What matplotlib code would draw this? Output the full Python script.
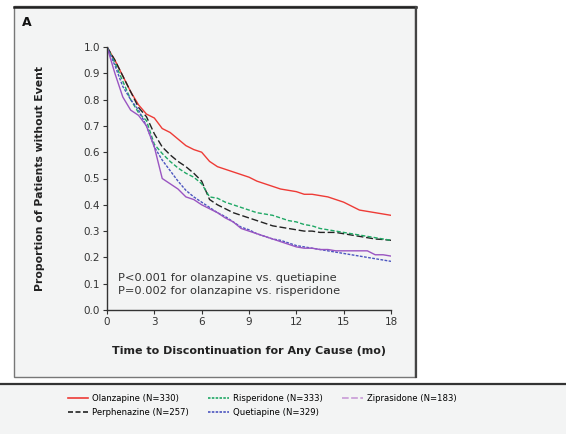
import matplotlib
matplotlib.use("Agg")
import matplotlib.pyplot as plt
from matplotlib.patches import Rectangle
from matplotlib.lines import Line2D

# ---------------- data (every 0.5 months) ----------------
months = [0, 0.5, 1, 1.5, 2, 2.5, 3, 3.5, 4, 4.5, 5, 5.5, 6, 6.5, 7, 7.5, 8, 8.5, 9,
          9.5, 10, 10.5, 11, 11.5, 12, 12.5, 13, 13.5, 14, 14.5, 15, 15.5, 16, 16.5,
          17, 17.5, 18]

olanzapine = [1.00, 0.95, 0.89, 0.83, 0.78, 0.745, 0.73, 0.69, 0.675, 0.65, 0.625,
              0.61, 0.60, 0.565, 0.545, 0.535, 0.525, 0.515, 0.505, 0.49, 0.48, 0.47,
              0.46, 0.455, 0.45, 0.44, 0.44, 0.435, 0.43, 0.42, 0.41, 0.395, 0.38,
              0.375, 0.37, 0.365, 0.36]
perphenazine = [1.00, 0.95, 0.89, 0.83, 0.77, 0.735, 0.67, 0.62, 0.59, 0.565, 0.545,
                0.52, 0.49, 0.42, 0.40, 0.385, 0.37, 0.36, 0.35, 0.34, 0.33, 0.32,
                0.315, 0.31, 0.305, 0.30, 0.30, 0.295, 0.295, 0.295, 0.29, 0.285,
                0.28, 0.275, 0.27, 0.268, 0.265]
risperidone = [1.00, 0.94, 0.87, 0.80, 0.75, 0.72, 0.63, 0.595, 0.565, 0.54, 0.52,
               0.505, 0.48, 0.43, 0.425, 0.41, 0.40, 0.39, 0.38, 0.37, 0.365, 0.36,
               0.35, 0.34, 0.335, 0.325, 0.32, 0.31, 0.305, 0.30, 0.295, 0.29, 0.285,
               0.28, 0.275, 0.27, 0.265]
quetiapine = [1.00, 0.93, 0.85, 0.80, 0.76, 0.70, 0.62, 0.57, 0.53, 0.49, 0.455,
              0.43, 0.41, 0.39, 0.37, 0.355, 0.335, 0.315, 0.305, 0.29, 0.28, 0.27,
              0.265, 0.255, 0.245, 0.24, 0.235, 0.23, 0.225, 0.22, 0.215, 0.21, 0.205,
              0.20, 0.195, 0.19, 0.185]
ziprasidone = [1.00, 0.90, 0.81, 0.76, 0.74, 0.70, 0.62, 0.50, 0.48, 0.46, 0.43,
               0.42, 0.40, 0.385, 0.37, 0.35, 0.335, 0.31, 0.30, 0.29, 0.28, 0.27,
               0.26, 0.25, 0.24, 0.235, 0.235, 0.23, 0.23, 0.225, 0.225, 0.225, 0.225,
               0.225, 0.21, 0.21, 0.205]

labels = ["Olanzapine (N=330)", "Perphenazine (N=257)", "Risperidone (N=333)",
          "Quetiapine (N=329)", "Ziprasidone (N=183)"]
x_ticks = [0, 3, 6, 9, 12, 15, 18]
y_ticks = [0.0, 0.1, 0.2, 0.3, 0.4, 0.5, 0.6, 0.7, 0.8, 0.9, 1.0]

# ---------------- figure ----------------
W, H = 566, 434
fig = plt.figure(figsize=(W / 100, H / 100), dpi=100)
fig.patch.set_facecolor("white")

# panel box
panel = Rectangle((14 / W, 1 - 377 / H), 401 / W, 371 / H, transform=fig.transFigure,
                  facecolor="#f3f4f4", edgecolor="#777777", lw=1.0, zorder=-5)
fig.patches.append(panel)
fig.add_artist(Line2D([14 / W, 415.5 / W], [1 - 6.5 / H] * 2, color="#222222", lw=1.8, zorder=-4))
fig.add_artist(Line2D([415.5 / W] * 2, [1 - 6.5 / H, 1 - 377 / H], color="#444444", lw=1.6, zorder=-4))

# legend strip
strip = Rectangle((0, 0), 1, 1 - 385 / H, transform=fig.transFigure,
                  facecolor="#f3f4f4", edgecolor="none", zorder=-5)
fig.patches.append(strip)
fig.add_artist(Line2D([0, 1], [1 - 384 / H] * 2, color="#333333", lw=1.6, zorder=-4))

ax = fig.add_axes([107 / W, 1 - 310 / H, 284 / W, 263 / H])
ax.set_facecolor("none")
ax.set_zorder(2)

styles = [
    ("#ee3b36", "-", olanzapine),
    ("#222222", (0, (5, 2)), perphenazine),
    ("#1fa865", (0, (3, 1.5)), risperidone),
    ("#4b55c0", (0, (2, 1)), quetiapine),
    ("#9a55c2", "-", ziprasidone),
]
for color, ls, vals in styles:
    ax.plot(months, vals, color=color, ls=ls, lw=1.0)

ax.set_xlim(0, 18)
ax.set_ylim(0, 1.0)
ax.set_xticks(x_ticks)
ax.set_yticks(y_ticks)
ax.set_yticklabels([f"{v:.1f}" for v in y_ticks])
for s in ["top", "right"]:
    ax.spines[s].set_visible(False)
for s in ["left", "bottom"]:
    ax.spines[s].set_color("#333333")
    ax.spines[s].set_linewidth(1.0)
ax.tick_params(direction="out", length=3, width=0.8, color="#333333",
               labelsize=7.5, labelcolor="#333333", pad=2)

ax.set_xlabel("Time to Discontinuation for Any Cause (mo)", fontsize=8,
              fontweight="bold", color="#222222", labelpad=14)
ax.set_ylabel("Proportion of Patients without Event", fontsize=7.8,
              fontweight="bold", color="#222222", labelpad=28)

ax.text(0.04, 0.097, "P<0.001 for olanzapine vs. quetiapine\nP=0.002 for olanzapine vs. risperidone",
        transform=ax.transAxes, fontsize=8.2, color="#333333", va="center",
        linespacing=1.3)

fig.text(22 / W, 1 - 23 / H, "A", fontsize=9, fontweight="bold", color="#111111",
         va="center")

# legend (custom handles as drawn in the key)
handles = [
    Line2D([], [], color="#ee3b36", lw=1.2),
    Line2D([], [], color="#222222", lw=1.2, ls=(0, (3, 1.5))),
    Line2D([], [], color="#1fa865", lw=1.2, ls=(0, (1.5, 0.8))),
    Line2D([], [], color="#4b55c0", lw=1.2, ls=(0, (1.5, 0.8))),
    Line2D([], [], color="#c89ad6", lw=1.2, ls=(0, (4, 1.5))),
]
fig.legend(handles, labels, loc="upper left", bbox_to_anchor=(60 / W, 1 - 386 / H),
           ncol=3, frameon=False, handlelength=2.4, handletextpad=0.5,
           columnspacing=2.3, labelspacing=0.6,
           prop={"family": "DejaVu Sans", "size": 6.1})

fig.savefig("out.png", dpi=100)
